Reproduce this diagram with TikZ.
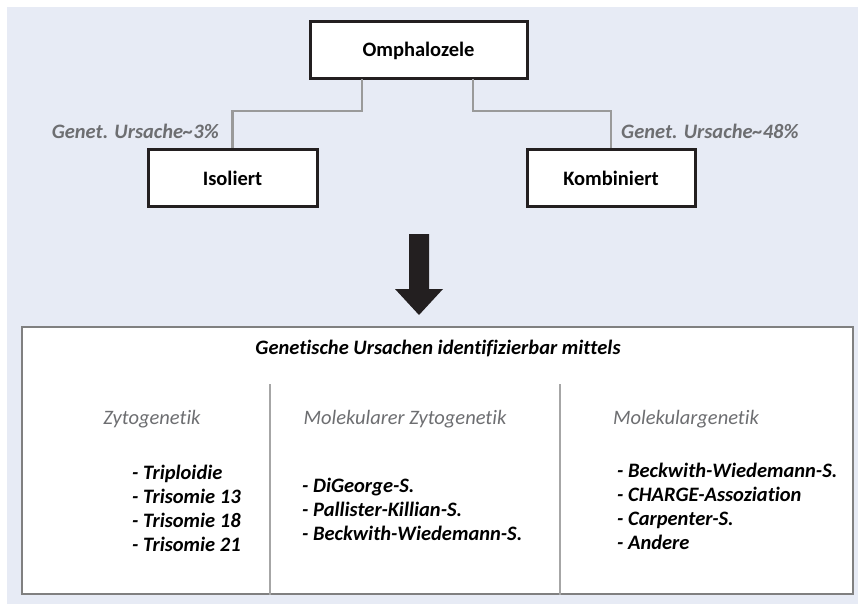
\documentclass[tikz,border=0pt]{standalone}
\usepackage{fontspec}
\setmainfont{Carlito}[Ligatures={NoCommon}]
\definecolor{bgc}{HTML}{E7EBF5}
\definecolor{boxc}{HTML}{231F20}
\definecolor{conc}{HTML}{9A9A9A}
\definecolor{framec}{HTML}{808080}
\definecolor{txtgray}{HTML}{6D6E71}
\begin{document}
\begin{tikzpicture}[x=1pt,y=-1pt,
  fs/.style={font=\fontsize{20.5}{24}\selectfont#1},
  box/.style={draw=boxc,line width=3pt,fill=white,minimum width=#1,minimum height=57pt,inner sep=0pt,fs=\bfseries},
  con/.style={draw=conc,line width=2.5pt},
  txt/.style={inner sep=0pt,text height=10pt,text depth=0pt},
  lbl/.style={txt,text=txtgray,fs=\bfseries\itshape},
  hdr/.style={txt,text=txtgray,fs=\itshape},
  item/.style={txt,anchor=west,fs=\bfseries\itshape},
  divl/.style={draw=framec!70,line width=1.2pt}]
\useasboundingbox (0,0) rectangle (858,604);
\fill[bgc] (7,7) rectangle (858,604);
% top boxes
\node[box=217pt] (omph) at (418.5,50.5) {Omphalozele};
\node[box=169pt] (iso) at (232.5,178) {Isoliert};
\node[box=168pt] (kom) at (611,178) {Kombiniert};
\coordinate (omphL) at (362,79);
\coordinate (omphR) at (473,79);
\draw[con] (omphL) -- (362,111) -| (iso.north);
\draw[con] (omphR) -- (473,111) -| (kom.north);
\node[lbl,anchor=east] (l3) at (219,134) {Genet. Ursache\textasciitilde3\%};
\node[lbl,anchor=west] (l48) at (621,134) {Genet. Ursache\textasciitilde48\%};
% big arrow
\fill[boxc] (409,234) -- (429,234) -- (429,289) -- (443,289) -- (419,315) -- (395,289) -- (409,289) -- cycle;
% bottom frame
\node[draw=framec,line width=2pt,fill=white,minimum width=831pt,minimum height=267pt,inner sep=0pt] (frame) at (437.5,460) {};
\node[txt,fs=\bfseries\itshape] (title) at (438,349) {Genetische Ursachen identifizierbar mittels};
\coordinate (d1t) at (270,384);
\coordinate (d2t) at (560,384);
\draw[divl] (d1t) -- (d1t |- frame.south);
\draw[divl] (d2t) -- (d2t |- frame.south);
\node[hdr] (h1) at (152,419) {Zytogenetik};
\node[hdr] (h2) at (405,419) {Molekularer Zytogenetik};
\node[hdr] (h3) at (686,419) {Molekulargenetik};
\foreach \t [count=\i] in {Triploidie,Trisomie 13,Trisomie 18,Trisomie 21}
  \node[item] (c1-\i) at (132,{474+24.3*(\i-1)}) {- \t};
\foreach \t [count=\i] in {DiGeorge-S.,Pallister-Killian-S.,Beckwith-Wiedemann-S.}
  \node[item] (c2-\i) at (302,{487+24.3*(\i-1)}) {- \t};
\foreach \t [count=\i] in {Beckwith-Wiedemann-S.,CHARGE-Assoziation,Carpenter-S.,Andere}
  \node[item] (c3-\i) at (617,{472+24.3*(\i-1)}) {- \t};
\end{tikzpicture}
\end{document}
